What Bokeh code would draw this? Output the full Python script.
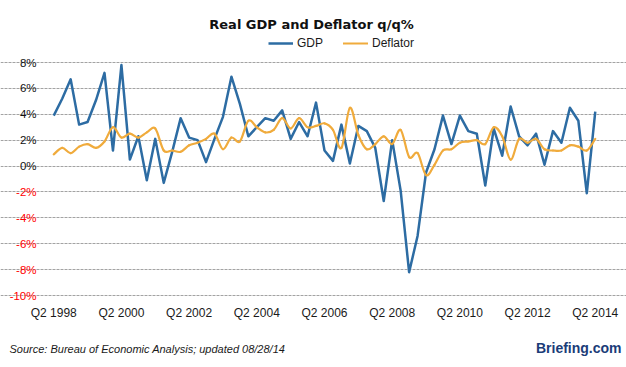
from bokeh.plotting import figure
from bokeh.models import (Range1d, FixedTicker, Label, LinearAxis, Grid,
                          ColumnDataSource, Legend, LegendItem)
from bokeh.embed import file_html
from bokeh.resources import INLINE

# ---- categories: quarters Q2 1998 .. Q2 2014 ----
quarters = []
for yr in range(1998, 2015):
    for q in range(1, 5):
        if (yr == 1998 and q < 2) or (yr == 2014 and q > 2):
            continue
        quarters.append(f"Q{q} {yr}")

# ---- series (q/q %, annualized) ----
gdp = [3.9, 5.2, 6.7,
       3.2, 3.4, 5.1, 7.2,
       1.2, 7.8, 0.5, 2.3,
       -1.1, 2.1, -1.3, 1.1,
       3.7, 2.2, 2.0, 0.3,
       2.1, 3.8, 6.9, 4.8,
       2.3, 3.0, 3.7, 3.5,
       4.3, 2.1, 3.4, 2.3,
       4.9, 1.2, 0.4, 3.2,
       0.2, 3.1, 2.7, 1.4,
       -2.7, 2.0, -1.9, -8.2,
       -5.4, -0.5, 1.3, 3.9,
       1.7, 3.9, 2.7, 2.5,
       -1.5, 2.9, 0.8, 4.6,
       2.3, 1.6, 2.5, 0.1,
       2.7, 1.8, 4.5, 3.5,
       -2.1, 4.2]

deflator = [0.9, 1.4, 1.0,
            1.5, 1.7, 1.4, 1.9,
            3.0, 2.2, 2.5, 2.2,
            2.6, 2.9, 1.2, 1.2,
            1.1, 1.6, 1.8, 2.1,
            2.5, 1.3, 2.2, 1.9,
            3.5, 3.0, 2.6, 2.8,
            3.7, 2.9, 3.7, 3.0,
            3.1, 3.3, 2.8, 1.4,
            4.5, 2.4, 1.3, 1.7,
            2.3, 1.7, 2.8, 0.7,
            1.0, -0.7, 0.1, 1.2,
            1.3, 1.8, 1.9, 2.0,
            1.7, 3.0, 2.3, 0.5,
            2.1, 1.8, 2.1, 1.3,
            1.2, 1.2, 1.6, 1.5,
            1.2, 2.1]

x_tick_labels = ["Q2 1998", "Q2 2000", "Q2 2002", "Q2 2004", "Q2 2006",
                 "Q2 2008", "Q2 2010", "Q2 2012", "Q2 2014"]
y_ticks = [-10, -8, -6, -4, -2, 0, 2, 4, 6, 8]

TITLE = "Real GDP and Deflator q/q%"
SOURCE = "Source: Bureau of Economic Analysis; updated 08/28/14"
BRAND = "Briefing.com"

GDP_COLOR = "#2d6ca3"
DEF_COLOR = "#f0ab3c"

# ---- layout (pixels) ----
W, H = 626, 367
PLOT_L, PLOT_R, PLOT_T, PLOT_B = 49, 599, 62, 295

n = len(quarters)
xs = list(range(n))

# ranges chosen so that the plotting band [-0.5, n-0.5] x [ymin, ymax]
# falls on the pixel box above, with room around it for texts
x_lo, x_hi = -0.5, n - 0.5
y_lo, y_hi = y_ticks[0], y_ticks[-1]
sx = (PLOT_R - PLOT_L) / (x_hi - x_lo)
sy = (PLOT_B - PLOT_T) / (y_hi - y_lo)
x_range = Range1d(x_lo - PLOT_L / sx, x_hi + (W - PLOT_R) / sx)
y_range = Range1d(y_lo - (H - PLOT_B) / sy, y_hi + PLOT_T / sy)

p = figure(width=W, height=H, output_backend="svg", toolbar_location=None,
           x_axis_type=None, y_axis_type=None, x_range=x_range, y_range=y_range,
           min_border=0, min_border_left=0, min_border_right=0,
           min_border_top=0, min_border_bottom=0)
p.outline_line_color = None
p.background_fill_color = "white"
p.border_fill_color = "white"

# horizontal dashed gridlines, limited to the plotting band
p.add_layout(Grid(dimension=1, ticker=FixedTicker(ticks=y_ticks), bounds=(x_lo, x_hi),
                  grid_line_color="#a3a3a3", grid_line_dash="3 1", grid_line_width=1))

# x axis along the bottom gridline
tick_pos = [quarters.index(l) for l in x_tick_labels]
xaxis = LinearAxis(ticker=FixedTicker(ticks=tick_pos), fixed_location=y_lo,
                   major_label_overrides={i: quarters[i] for i in tick_pos},
                   axis_line_color=None, major_tick_line_color=None,
                   minor_tick_line_color=None, major_tick_out=0, major_tick_in=0,
                   major_label_standoff=10,
                   major_label_text_font="Liberation Sans",
                   major_label_text_font_size="12px",
                   major_label_text_color="#1a1a1a")
p.add_layout(xaxis, "below")


def y_axis(labels, color):
    return LinearAxis(ticker=FixedTicker(ticks=y_ticks), fixed_location=x_lo,
                      major_label_overrides=labels,
                      axis_line_color=None, major_tick_line_color=None,
                      minor_tick_line_color=None, major_tick_out=0, major_tick_in=0,
                      major_label_standoff=13,
                      major_label_text_font="Liberation Sans",
                      major_label_text_font_size="11.5px",
                      major_label_text_color=color)


# y axis: non-negative labels black, negative labels red
p.add_layout(y_axis({t: (f"{t}%" if t >= 0 else "") for t in y_ticks}, "#111111"), "left")
p.add_layout(y_axis({t: (f"{t}%" if t < 0 else "") for t in y_ticks}, "#ff0000"), "left")

gdp_r = p.line(xs, gdp, line_color=GDP_COLOR, line_width=2.5, line_join="round")

# Deflator: smoothed line (Bezier segments through the data points)
x0, y0, x1, y1, cx0, cy0, cx1, cy1 = [], [], [], [], [], [], [], []
for i in range(n - 1):
    xa, ya = xs[i], deflator[i]
    xb, yb = xs[i + 1], deflator[i + 1]
    xp, yp = (xs[i - 1], deflator[i - 1]) if i > 0 else (xa, ya)
    xn, yn = (xs[i + 2], deflator[i + 2]) if i + 2 < n else (xb, yb)
    x0.append(xa); y0.append(ya); x1.append(xb); y1.append(yb)
    cx0.append(xa + (xb - xp) / 6.0); cy0.append(ya + (yb - yp) / 6.0)
    cx1.append(xb - (xn - xa) / 6.0); cy1.append(yb - (yn - ya) / 6.0)
bez_src = ColumnDataSource(dict(x0=x0, y0=y0, x1=x1, y1=y1,
                                cx0=cx0, cy0=cy0, cx1=cx1, cy1=cy1))
def_r = p.bezier(x0="x0", y0="y0", x1="x1", y1="y1", cx0="cx0", cy0="cy0",
                 cx1="cx1", cy1="cy1", source=bez_src, line_color=DEF_COLOR,
                 line_width=2.2, line_cap="round")

legend = Legend(items=[LegendItem(label="GDP", renderers=[gdp_r]),
                       LegendItem(label="Deflator", renderers=[def_r], index=0)],
                orientation="horizontal", location=(268, H - 50),
                border_line_color=None, background_fill_alpha=0,
                padding=0, margin=0, spacing=20, label_standoff=4,
                glyph_width=25, glyph_height=14, label_height=14,
                label_text_font="Liberation Sans", label_text_font_size="12px",
                label_text_color="#1a1a1a")
p.add_layout(legend)

p.add_layout(Label(x=311, y=H - 24, x_units="screen", y_units="screen",
                   text=TITLE, text_align="center", text_baseline="middle",
                   text_font="DejaVu Sans", text_font_style="bold",
                   text_font_size="13px", text_color="#111111"))
p.add_layout(Label(x=9, y=H - 348, x_units="screen", y_units="screen",
                   text=SOURCE, text_align="left", text_baseline="middle",
                   text_font="Liberation Sans", text_font_style="italic",
                   text_font_size="11px", text_color="#1a1a1a"))
p.add_layout(Label(x=621, y=H - 347, x_units="screen", y_units="screen",
                   text=BRAND, text_align="right", text_baseline="middle",
                   text_font="Liberation Sans", text_font_style="bold",
                   text_font_size="14px", text_color="#1b3c78"))

open("out.html", "w").write(file_html(p, INLINE))
